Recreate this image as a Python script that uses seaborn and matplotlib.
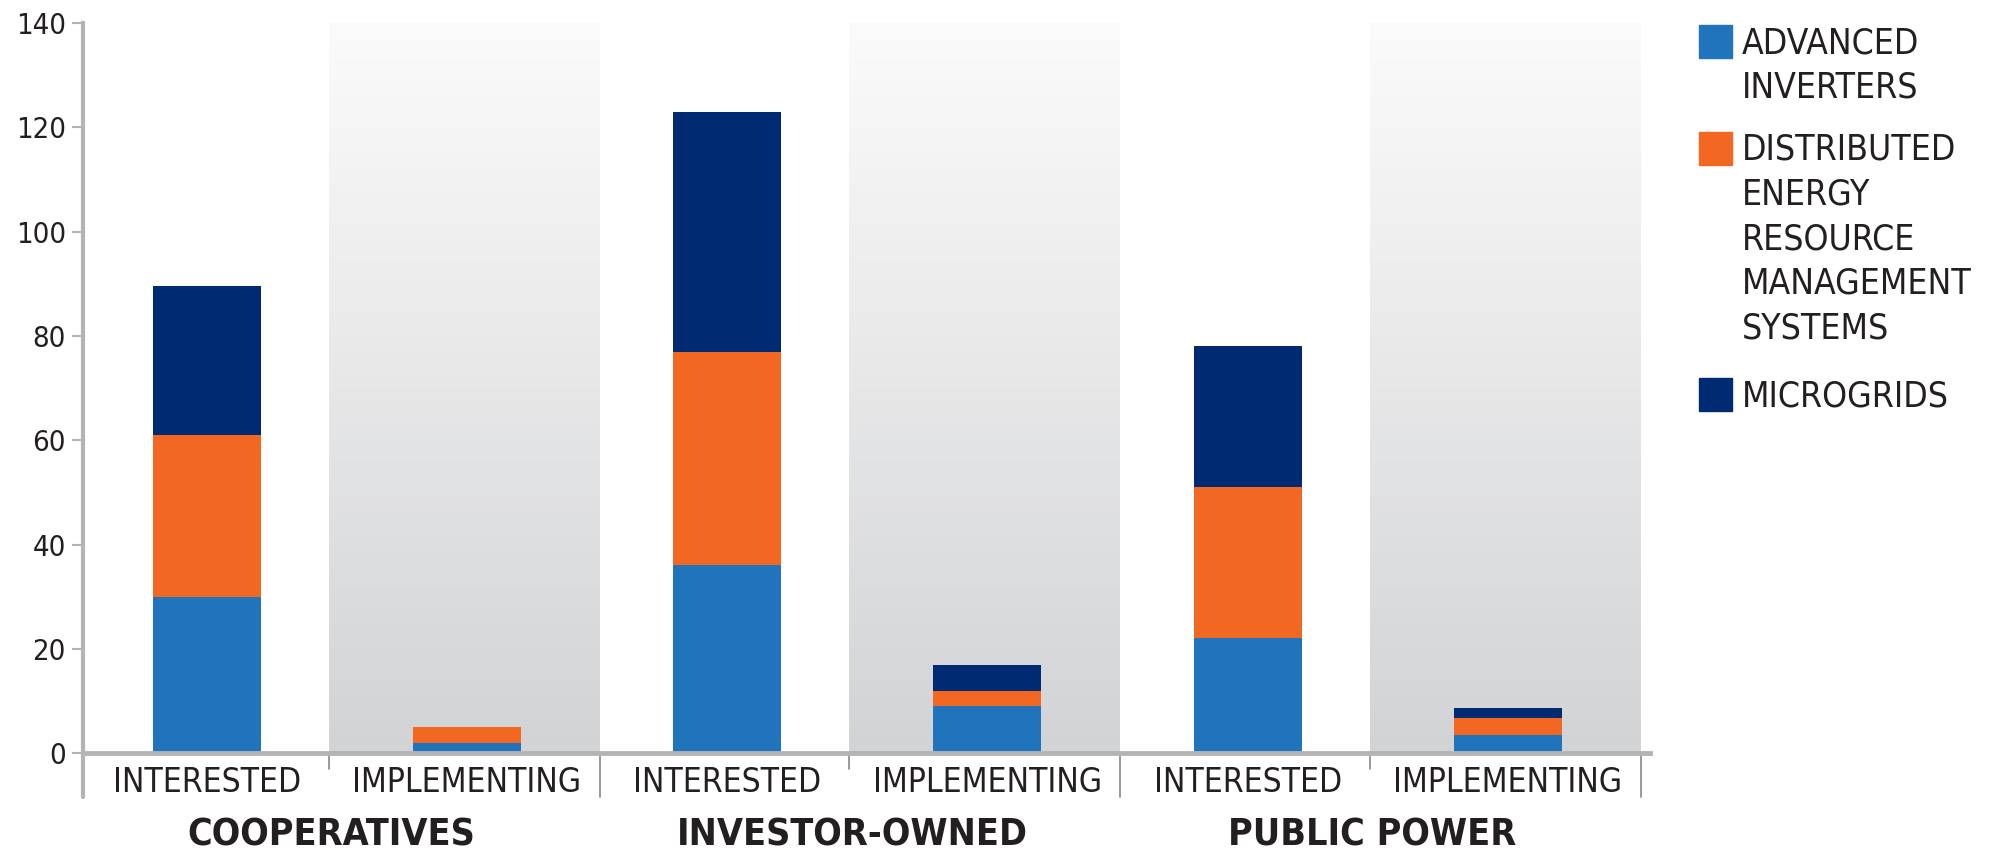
import numpy as np
import pandas as pd
import matplotlib
matplotlib.use('Agg')
import matplotlib.pyplot as plt
import seaborn as sns
from matplotlib.colors import LinearSegmentedColormap
from matplotlib.patches import Rectangle

# Data
groups = ['COOPERATIVES', 'INVESTOR-OWNED', 'PUBLIC POWER']
stages = ['INTERESTED', 'IMPLEMENTING']
advanced_inverters = [30, 2, 36, 9, 22, 3.5]
derms = [31, 3, 41, 3, 29, 3.2]
microgrids = [28.5, 0, 46, 5, 27, 2]
series_names = ['ADVANCED\nINVERTERS',
                'DISTRIBUTED\nENERGY\nRESOURCE\nMANAGEMENT\nSYSTEMS',
                'MICROGRIDS']
colors = ['#1f74bb', '#f26722', '#002b72']
y_ticks = [0, 20, 40, 60, 80, 100, 120, 140]

sns.set_style('white')
plt.rcParams['font.family'] = ['DejaVu Sans']
plt.rcParams['font.stretch'] = 'condensed'
text_color = '#231f20'
axis_gray = '#b4b4b4'

slots = [f'{g}|{s}' for g in groups for s in stages]
df = pd.DataFrame({'slot': slots, 'ai': advanced_inverters, 'derms': derms, 'micro': microgrids})
df['top_ai'] = df['ai']
df['top_derms'] = df['ai'] + df['derms']
df['top_micro'] = df['top_derms'] + df['micro']

fig = plt.figure(figsize=(19.94, 8.52), dpi=100)
ax = fig.add_axes([0.0414, 0.116, 0.7859, 0.857])

# shaded "implementing" columns (white-to-grey gradient)
grad = LinearSegmentedColormap.from_list('g', ['#d2d3d5', '#fbfbfb'])
ramp = np.linspace(0, 1, 256).reshape(-1, 1)
for i in range(len(slots)):
    if slots[i].endswith('IMPLEMENTING'):
        ax.imshow(ramp, cmap=grad, origin='lower', aspect='auto',
                  extent=[i - 0.53, i + 0.51, 0, 140], zorder=0)

for col, c in zip(['top_micro', 'top_derms', 'top_ai'], colors[::-1]):
    sns.barplot(data=df, x='slot', y=col, order=slots, color=c, saturation=1,
                width=0.415, linewidth=0, ax=ax, zorder=2)

ax.set_xlim(-0.477, len(slots) - 0.455)
ax.set_ylim(0, 140)
ax.set_xlabel('')
ax.set_ylabel('')

ax.set_yticks(y_ticks)
ax.set_yticklabels([str(t) for t in y_ticks], fontsize=21, color=text_color)
ax.tick_params(axis='y', direction='out', length=8, width=1.5, color=axis_gray, pad=4, left=True)
ax.set_xticks(range(len(slots)))
ax.set_xticklabels([s.split('|')[1] for s in slots], fontsize=24, color=text_color)
ax.tick_params(axis='x', length=0, pad=9)

for side in ['top', 'right']:
    ax.spines[side].set_visible(False)
ax.spines['left'].set_color(axis_gray)
ax.spines['left'].set_linewidth(3)
ax.spines['bottom'].set_color(axis_gray)
ax.spines['bottom'].set_linewidth(3.5)
ax.spines['bottom'].set_zorder(3)

trans = ax.get_xaxis_transform()
# separators under the x axis
ax.plot([-0.477, -0.477], [0, -0.06], transform=trans, color=axis_gray, lw=3, clip_on=False)
for b in [0.47, 2.47, 4.47]:
    ax.plot([b, b], [0, -0.022], transform=trans, color='#888888', lw=1.2, clip_on=False)
for b in [1.51, 3.51, 5.51]:
    ax.plot([b, b], [0, -0.06], transform=trans, color='#888888', lw=1.2, clip_on=False)

# group labels
for k, g in enumerate(groups):
    ax.text(2 * k + 0.48, -0.126, g, transform=trans, ha='center', va='baseline',
            fontsize=27, fontweight='bold', color=text_color)

# legend
fw, fh = 1994, 852
patch_tops = [25, 132, 378]
for name, c, top in zip(series_names, colors, patch_tops):
    fig.patches.append(Rectangle((1699 / fw, 1 - (top + 33) / fh), 33 / fw, 33 / fh,
                                 transform=fig.transFigure, color=c))
    fig.text(1742 / fw, 1 - (top + 1) / fh, name, ha='left', va='top',
             fontsize=25.5, color=text_color, linespacing=1.39)

fig.savefig('out.png', dpi=100, facecolor='white')
